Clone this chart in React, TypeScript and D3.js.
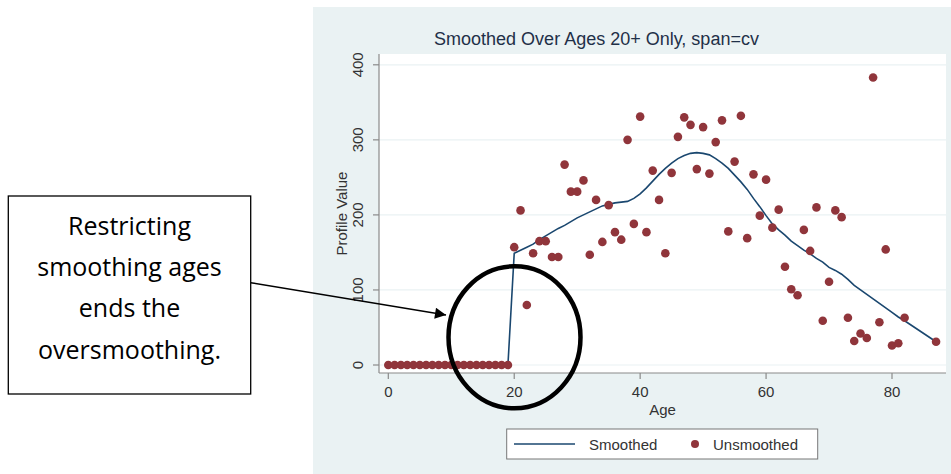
import React from "react";
import * as d3 from "d3";

const ages = [
  0, 1, 2, 3, 4, 5, 6, 7, 8, 9, 10, 11, 12, 13, 14, 15, 16, 17, 18, 19,
  20, 21, 22, 23, 24, 25, 26, 27, 28, 29, 30, 31, 32, 33, 34, 35, 36, 37, 38, 39,
  40, 41, 42, 43, 44, 45, 46, 47, 48, 49, 50, 51, 52, 53, 54, 55, 56, 57, 58, 59,
  60, 61, 62, 63, 64, 65, 66, 67, 68, 69, 70, 71, 72, 73, 74, 75, 76, 77, 78, 79,
  80, 81, 82, 87,
];

const unsmoothed = [
  0, 0, 0, 0, 0, 0, 0, 0, 0, 0, 0, 0, 0, 0, 0, 0, 0, 0, 0, 0,
  157, 206, 80, 149, 165, 165, 144, 144, 267, 231, 231, 246, 147, 220, 164, 213, 177, 167, 300, 188,
  331, 177, 259, 220, 149, 256, 304, 330, 320, 261, 317, 255, 297, 326, 178, 271, 332, 169, 254, 199,
  247, 183, 207, 131, 101, 93, 180, 152, 210, 59, 111, 206, 197, 63, 32, 42, 36, 383, 57, 154,
  26, 29, 63, 31,
];

const smoothed = [
  0, 0, 0, 0, 0, 0, 0, 0, 0, 0, 0, 0, 0, 0, 0, 0, 0, 0, 0, 0,
  149, 153, 157, 161, 167, 172, 177, 182, 186, 191, 196, 200, 204, 208, 212, 214, 216, 217, 218, 222,
  228, 236, 245, 254, 262, 269, 275, 279, 282, 283, 282, 280, 275, 269, 262, 253, 244, 234, 222, 211,
  199, 188, 180, 173, 165, 159, 153, 148, 142, 137, 130, 126, 121, 114, 106, 100, 94, 88, 82, 76,
  70, 64, 59, 31,
];

const xTicks = [0, 20, 40, 60, 80];
const yTicks = [0, 100, 200, 300, 400];

const titleText = "Smoothed Over Ages 20+ Only, span=cv";
const xTitle = "Age";
const yTitle = "Profile Value";
const legendLabels = ["Smoothed", "Unsmoothed"];
const noteLines = ["Restricting", "smoothing ages", "ends the", "oversmoothing."];

const BG = "#EAF2F3";
const LINE = "#1A476F";
const DOT = "#90353B";
const FONT = "'Liberation Sans', Arial, sans-serif";

export default function App() {
  const x = d3.scaleLinear().domain([0, 80]).range([388.3, 892]);
  const y = d3.scaleLinear().domain([0, 400]).range([365, 64.8]);

  const plotL = 379, plotR = 946, plotT = 54, plotB = 373;

  const pts = ages.map((a, i) => ({ a, u: unsmoothed[i], s: smoothed[i] }));
  const lineGen = d3
    .line<{ a: number; s: number }>()
    .x((d) => x(d.a))
    .y((d) => y(d.s));
  const smoothPath = lineGen(pts.filter((d) => d.a >= 19)) || "";

  return (
    <svg
      width={951}
      height={474}
      style={{ position: "absolute", left: 0, top: 0, background: "#fff" }}
      fontFamily={FONT}
    >
      <defs>
        <marker
          id="arrowhead"
          viewBox="0 0 10 10"
          refX="10"
          refY="5"
          markerWidth="16"
          markerHeight="11"
          markerUnits="userSpaceOnUse"
          orient="auto"
        >
          <path d="M0,0 L10,5 L0,10 z" fill="#000" />
        </marker>
      </defs>

      {/* graph region */}
      <rect x={313} y={7} width={638} height={467} fill={BG} />
      {/* plot region */}
      <rect x={plotL} y={plotT} width={plotR - plotL} height={plotB - plotT} fill="#fff" />

      {/* grid */}
      {yTicks.map((t) => (
        <line key={"g" + t} x1={plotL} x2={plotR} y1={y(t)} y2={y(t)} stroke={BG} strokeWidth={1.2} />
      ))}

      {/* axes */}
      <line x1={plotL} x2={plotL} y1={plotT} y2={plotB} stroke="#8a8a8a" strokeWidth={1.2} />
      <line x1={plotL} x2={plotR} y1={plotB} y2={plotB} stroke="#8a8a8a" strokeWidth={1.2} />

      {yTicks.map((t) => (
        <g key={"yt" + t}>
          <line x1={plotL - 6} x2={plotL} y1={y(t)} y2={y(t)} stroke="#8a8a8a" strokeWidth={1.2} />
          <text
            transform={`translate(363,${y(t)}) rotate(-90)`}
            textAnchor="middle"
            fontSize={15}
            fill="#333"
          >
            {t}
          </text>
        </g>
      ))}
      {xTicks.map((t) => (
        <g key={"xt" + t}>
          <line x1={x(t)} x2={x(t)} y1={plotB} y2={plotB + 6} stroke="#8a8a8a" strokeWidth={1.2} />
          <text x={x(t)} y={396.5} textAnchor="middle" fontSize={15} fill="#333">
            {t}
          </text>
        </g>
      ))}

      <text
        transform={`translate(347,${(plotT + plotB) / 2}) rotate(-90)`}
        textAnchor="middle"
        fontSize={15}
        fill="#333"
      >
        {yTitle}
      </text>
      <text x={(plotL + plotR) / 2} y={415} textAnchor="middle" fontSize={15} fill="#333">
        {xTitle}
      </text>

      <text x={596.5} y={45} textAnchor="middle" fontSize={18} fill="#1f3048">
        {titleText}
      </text>

      {/* smoothed line */}
      <path d={smoothPath} fill="none" stroke={LINE} strokeWidth={1.6} />

      {/* points */}
      {pts.map((d, i) => (
        <circle key={"p" + i} cx={x(d.a)} cy={y(d.u)} r={4.3} fill={DOT} />
      ))}

      {/* legend */}
      <rect x={506.7} y={429} width={311} height={30} fill="#fff" stroke="#777" strokeWidth={1} />
      <line x1={514} x2={575} y1={444} y2={444} stroke={LINE} strokeWidth={1.6} />
      <text x={589} y={449.5} fontSize={15} fill="#333">
        {legendLabels[0]}
      </text>
      <circle cx={695} cy={444} r={4} fill={DOT} />
      <text x={713} y={449.5} fontSize={15} fill="#333">
        {legendLabels[1]}
      </text>

      {/* annotation */}
      <ellipse cx={514.5} cy={337.3} rx={66} ry={71} fill="none" stroke="#000" strokeWidth={4.5} />
      <line
        x1={250.7}
        y1={282.7}
        x2={446}
        y2={315}
        stroke="#000"
        strokeWidth={1.5}
        markerEnd="url(#arrowhead)"
      />
      <rect x={8.3} y={196} width={242.4} height={198} fill="#fff" stroke="#000" strokeWidth={1.3} />
      {noteLines.map((s, i) => (
        <text
          key={"n" + i}
          x={129.5}
          y={235 + i * 41.2}
          textAnchor="middle"
          fontSize={25}
          fontFamily="'Open Sans', sans-serif"
          fill="#000"
        >
          {s}
        </text>
      ))}
    </svg>
  );
}
